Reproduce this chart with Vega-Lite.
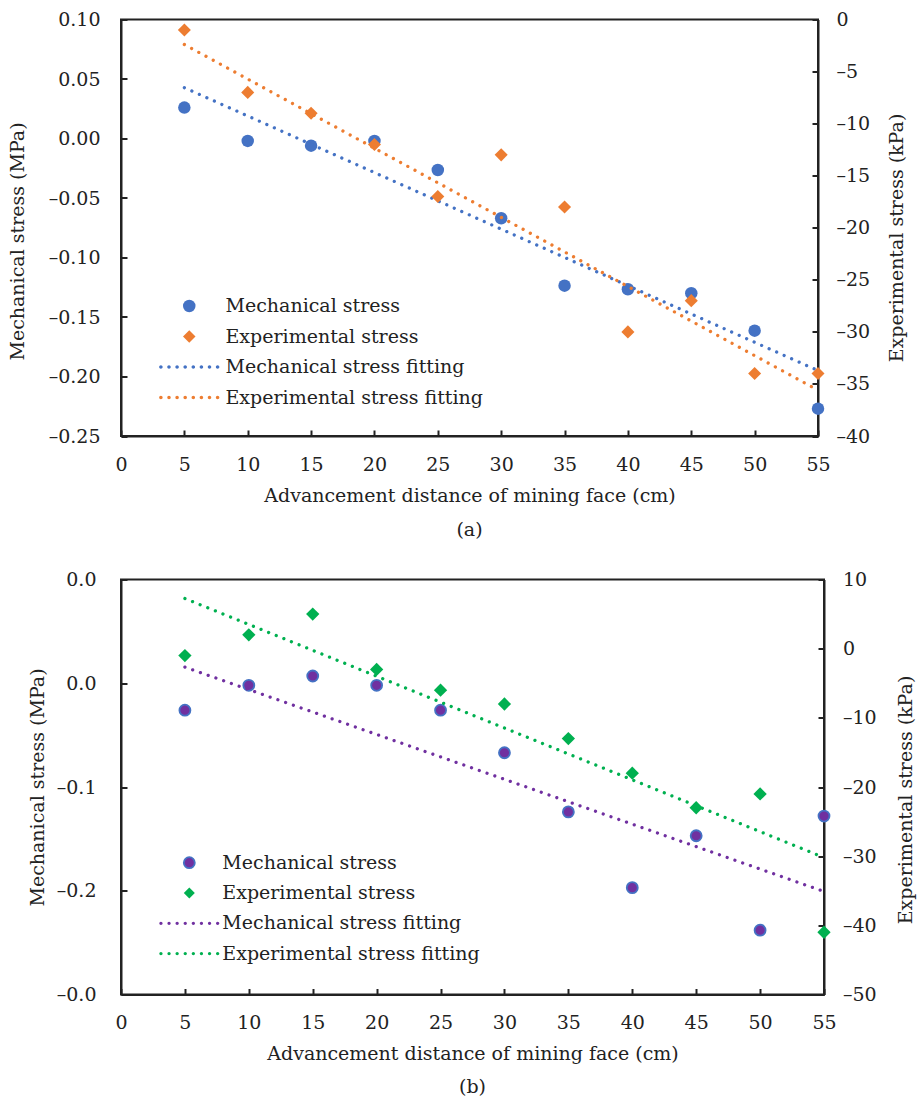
{
  "$schema": "https://vega.github.io/schema/vega-lite/v6.json",
  "background": "white",
  "padding": {"left": 7, "top": 9.5, "right": 5, "bottom": 5},
  "spacing": 28,
  "config": {
    "font": "DejaVu Serif",
    "view": {"stroke": "#222", "strokeWidth": 2},
    "axis": {
      "grid": false, "domainColor": "#222", "domainWidth": 2, "tickColor": "#222", "tickWidth": 2, "tickSize": -6,
      "labelFont": "DejaVu Serif", "labelFontSize": 19, "labelColor": "#222",
      "titleFont": "DejaVu Serif", "titleFontSize": 19, "titleFontWeight": "normal", "titleColor": "#222"
    },
    "legend": {"labelFont": "DejaVu Serif", "labelFontSize": 19, "labelColor": "#222", "labelLimit": 400},
    "title": {"font": "DejaVu Serif", "fontSize": 19, "fontWeight": "normal", "color": "#222"}
  },
  "datasets": {
    "a_mech": [
      {"x": 5, "y": 0.026, "series": "Mechanical stress"},
      {"x": 10, "y": -0.002, "series": "Mechanical stress"},
      {"x": 15, "y": -0.006, "series": "Mechanical stress"},
      {"x": 20, "y": -0.002, "series": "Mechanical stress"},
      {"x": 25, "y": -0.0265, "series": "Mechanical stress"},
      {"x": 30, "y": -0.067, "series": "Mechanical stress"},
      {"x": 35, "y": -0.1237, "series": "Mechanical stress"},
      {"x": 40, "y": -0.1267, "series": "Mechanical stress"},
      {"x": 45, "y": -0.13, "series": "Mechanical stress"},
      {"x": 50, "y": -0.1615, "series": "Mechanical stress"},
      {"x": 55, "y": -0.227, "series": "Mechanical stress"}
    ],
    "a_exp": [
      {"x": 5, "y": -1, "series": "Experimental stress"},
      {"x": 10, "y": -7, "series": "Experimental stress"},
      {"x": 15, "y": -9, "series": "Experimental stress"},
      {"x": 20, "y": -12, "series": "Experimental stress"},
      {"x": 25, "y": -17, "series": "Experimental stress"},
      {"x": 30, "y": -13, "series": "Experimental stress"},
      {"x": 35, "y": -18, "series": "Experimental stress"},
      {"x": 40, "y": -30, "series": "Experimental stress"},
      {"x": 45, "y": -27, "series": "Experimental stress"},
      {"x": 50, "y": -34, "series": "Experimental stress"},
      {"x": 55, "y": -34, "series": "Experimental stress"}
    ],
    "a_mech_fit": [{"x": 5, "y": 0.0427}, {"x": 55, "y": -0.195}],
    "a_exp_fit": [{"x": 5, "y": -2.4}, {"x": 55, "y": -35.6}],
    "b_mech": [
      {"x": 5, "y": -0.026, "series": "Mechanical stress"},
      {"x": 10, "y": -0.002, "series": "Mechanical stress"},
      {"x": 15, "y": 0.007, "series": "Mechanical stress"},
      {"x": 20, "y": -0.002, "series": "Mechanical stress"},
      {"x": 25, "y": -0.026, "series": "Mechanical stress"},
      {"x": 30, "y": -0.067, "series": "Mechanical stress"},
      {"x": 35, "y": -0.124, "series": "Mechanical stress"},
      {"x": 40, "y": -0.197, "series": "Mechanical stress"},
      {"x": 45, "y": -0.147, "series": "Mechanical stress"},
      {"x": 50, "y": -0.238, "series": "Mechanical stress"},
      {"x": 55, "y": -0.128, "series": "Mechanical stress"}
    ],
    "b_exp": [
      {"x": 5, "y": -1, "series": "Experimental stress"},
      {"x": 10, "y": 2, "series": "Experimental stress"},
      {"x": 15, "y": 5, "series": "Experimental stress"},
      {"x": 20, "y": -3, "series": "Experimental stress"},
      {"x": 25, "y": -6, "series": "Experimental stress"},
      {"x": 30, "y": -8, "series": "Experimental stress"},
      {"x": 35, "y": -13, "series": "Experimental stress"},
      {"x": 40, "y": -18, "series": "Experimental stress"},
      {"x": 45, "y": -23, "series": "Experimental stress"},
      {"x": 50, "y": -21, "series": "Experimental stress"},
      {"x": 55, "y": -41, "series": "Experimental stress"}
    ],
    "b_mech_fit": [{"x": 5, "y": 0.0155}, {"x": 55, "y": -0.2007}],
    "b_exp_fit": [{"x": 5, "y": 7.25}, {"x": 55, "y": -30.2}]
  },
  "resolve": {
    "scale": {"fill": "independent", "stroke": "independent", "shape": "independent"},
    "legend": {"fill": "independent", "stroke": "independent", "shape": "independent"}
  },
  "vconcat": [
    {
      "width": 697,
      "height": 416.5,
      "title": {"text": "(a)", "orient": "bottom", "anchor": "middle", "offset": 16},
      "resolve": {"scale": {"y": "independent"}, "axis": {"y": "independent"}},
      "layer": [
        {
          "layer": [
            {
              "data": {"name": "a_mech"},
              "mark": {"type": "point", "filled": true, "opacity": 1, "size": 156, "strokeWidth": 0},
              "encoding": {
                "x": {"field": "x", "type": "quantitative", "scale": {"domain": [0, 55], "nice": false, "zero": false},
                  "axis": {"orient": "bottom", "title": "Advancement distance of mining face (cm)", "values": [0, 5, 10, 15, 20, 25, 30, 35, 40, 45, 50, 55], "labelPadding": 25, "titlePadding": 12, "labelFlush": false}},
                "y": {"field": "y", "type": "quantitative", "scale": {"domain": [-0.25, 0.1], "nice": false, "zero": false},
                  "axis": {"orient": "left", "title": "Mechanical stress (MPa)", "titleY": 221.5, "values": [0.1, 0.05, 0, -0.05, -0.1, -0.15, -0.2, -0.25], "labelExpr": "(datum.value < -0.0001 ? '–' : '') + format(abs(datum.value), '.2f')", "labelPadding": 27, "titlePadding": 21}},
                "fill": {"field": "series", "type": "nominal",
                  "scale": {"domain": ["Mechanical stress", "Experimental stress", "Mechanical stress fitting", "Experimental stress fitting"], "range": ["#4472C4", "#ED7D31", "#4472C4", "#ED7D31"]},
                  "legend": {"title": null, "orient": "none", "legendX": 58.75, "legendY": 277, "symbolSize": 156, "labelOffset": 26.75, "rowPadding": 10.5, "symbolStrokeWidth": 0}},
                "shape": {"field": "series", "type": "nominal",
                  "scale": {"domain": ["Mechanical stress", "Experimental stress", "Mechanical stress fitting", "Experimental stress fitting"], "range": ["circle", "diamond", "M-4.82,0a0.28,0.28 0 1,0 0.56,0a0.28,0.28 0 1,0 -0.56,0ZM-3.523,0a0.28,0.28 0 1,0 0.56,0a0.28,0.28 0 1,0 -0.56,0ZM-2.226,0a0.28,0.28 0 1,0 0.56,0a0.28,0.28 0 1,0 -0.56,0ZM-0.929,0a0.28,0.28 0 1,0 0.56,0a0.28,0.28 0 1,0 -0.56,0ZM0.369,0a0.28,0.28 0 1,0 0.56,0a0.28,0.28 0 1,0 -0.56,0ZM1.666,0a0.28,0.28 0 1,0 0.56,0a0.28,0.28 0 1,0 -0.56,0ZM2.963,0a0.28,0.28 0 1,0 0.56,0a0.28,0.28 0 1,0 -0.56,0ZM4.26,0a0.28,0.28 0 1,0 0.56,0a0.28,0.28 0 1,0 -0.56,0Z", "M-4.82,0a0.28,0.28 0 1,0 0.56,0a0.28,0.28 0 1,0 -0.56,0ZM-3.523,0a0.28,0.28 0 1,0 0.56,0a0.28,0.28 0 1,0 -0.56,0ZM-2.226,0a0.28,0.28 0 1,0 0.56,0a0.28,0.28 0 1,0 -0.56,0ZM-0.929,0a0.28,0.28 0 1,0 0.56,0a0.28,0.28 0 1,0 -0.56,0ZM0.369,0a0.28,0.28 0 1,0 0.56,0a0.28,0.28 0 1,0 -0.56,0ZM1.666,0a0.28,0.28 0 1,0 0.56,0a0.28,0.28 0 1,0 -0.56,0ZM2.963,0a0.28,0.28 0 1,0 0.56,0a0.28,0.28 0 1,0 -0.56,0ZM4.26,0a0.28,0.28 0 1,0 0.56,0a0.28,0.28 0 1,0 -0.56,0Z"]},
                  "legend": {"title": null, "orient": "none", "legendX": 58.75, "legendY": 277, "symbolSize": 156, "labelOffset": 26.75, "rowPadding": 10.5, "symbolStrokeWidth": 0}}
              }
            },
            {
              "data": {"name": "a_mech_fit"},
              "mark": {"type": "line", "color": "#4472C4", "strokeWidth": 3.3, "strokeDash": [0.01, 8.2], "strokeCap": "round"},
              "encoding": {
                "x": {"field": "x", "type": "quantitative", "scale": {"domain": [0, 55], "nice": false, "zero": false}},
                "y": {"field": "y", "type": "quantitative", "scale": {"domain": [-0.25, 0.1], "nice": false, "zero": false}}
              }
            }
          ]
        },
        {
          "layer": [
            {
              "data": {"name": "a_exp"},
              "mark": {"type": "point", "filled": true, "opacity": 1, "size": 170, "strokeWidth": 0},
              "encoding": {
                "x": {"field": "x", "type": "quantitative", "scale": {"domain": [0, 55], "nice": false, "zero": false}},
                "y": {"field": "y", "type": "quantitative", "scale": {"domain": [-40, 0], "nice": false, "zero": false},
                  "axis": {"orient": "right", "title": "Experimental stress (kPa)", "titleAngle": 270, "titleBaseline": "top", "titleY": 218, "values": [0, -5, -10, -15, -20, -25, -30, -35, -40], "labelExpr": "(datum.value < 0 ? '–' : '') + abs(datum.value)", "labelPadding": 24, "titlePadding": 18}},
                "fill": {"field": "series", "type": "nominal",
                  "scale": {"domain": ["Mechanical stress", "Experimental stress", "Mechanical stress fitting", "Experimental stress fitting"], "range": ["#4472C4", "#ED7D31", "#4472C4", "#ED7D31"]},
                  "legend": {"title": null, "orient": "none", "legendX": 58.75, "legendY": 277, "symbolSize": 156, "labelOffset": 26.75, "rowPadding": 10.5, "symbolStrokeWidth": 0}},
                "shape": {"field": "series", "type": "nominal",
                  "scale": {"domain": ["Mechanical stress", "Experimental stress", "Mechanical stress fitting", "Experimental stress fitting"], "range": ["circle", "diamond", "M-4.82,0a0.28,0.28 0 1,0 0.56,0a0.28,0.28 0 1,0 -0.56,0ZM-3.523,0a0.28,0.28 0 1,0 0.56,0a0.28,0.28 0 1,0 -0.56,0ZM-2.226,0a0.28,0.28 0 1,0 0.56,0a0.28,0.28 0 1,0 -0.56,0ZM-0.929,0a0.28,0.28 0 1,0 0.56,0a0.28,0.28 0 1,0 -0.56,0ZM0.369,0a0.28,0.28 0 1,0 0.56,0a0.28,0.28 0 1,0 -0.56,0ZM1.666,0a0.28,0.28 0 1,0 0.56,0a0.28,0.28 0 1,0 -0.56,0ZM2.963,0a0.28,0.28 0 1,0 0.56,0a0.28,0.28 0 1,0 -0.56,0ZM4.26,0a0.28,0.28 0 1,0 0.56,0a0.28,0.28 0 1,0 -0.56,0Z", "M-4.82,0a0.28,0.28 0 1,0 0.56,0a0.28,0.28 0 1,0 -0.56,0ZM-3.523,0a0.28,0.28 0 1,0 0.56,0a0.28,0.28 0 1,0 -0.56,0ZM-2.226,0a0.28,0.28 0 1,0 0.56,0a0.28,0.28 0 1,0 -0.56,0ZM-0.929,0a0.28,0.28 0 1,0 0.56,0a0.28,0.28 0 1,0 -0.56,0ZM0.369,0a0.28,0.28 0 1,0 0.56,0a0.28,0.28 0 1,0 -0.56,0ZM1.666,0a0.28,0.28 0 1,0 0.56,0a0.28,0.28 0 1,0 -0.56,0ZM2.963,0a0.28,0.28 0 1,0 0.56,0a0.28,0.28 0 1,0 -0.56,0ZM4.26,0a0.28,0.28 0 1,0 0.56,0a0.28,0.28 0 1,0 -0.56,0Z"]},
                  "legend": {"title": null, "orient": "none", "legendX": 58.75, "legendY": 277, "symbolSize": 156, "labelOffset": 26.75, "rowPadding": 10.5, "symbolStrokeWidth": 0}}
              }
            },
            {
              "data": {"name": "a_exp_fit"},
              "mark": {"type": "line", "color": "#ED7D31", "strokeWidth": 3.3, "strokeDash": [0.01, 8.2], "strokeCap": "round"},
              "encoding": {
                "x": {"field": "x", "type": "quantitative", "scale": {"domain": [0, 55], "nice": false, "zero": false}},
                "y": {"field": "y", "type": "quantitative", "scale": {"domain": [-40, 0], "nice": false, "zero": false}}
              }
            }
          ]
        }
      ]
    },
    {
      "width": 703,
      "height": 415,
      "title": {"text": "(b)", "orient": "bottom", "anchor": "middle", "offset": 14},
      "resolve": {"scale": {"y": "independent"}, "axis": {"y": "independent"}},
      "layer": [
        {
          "layer": [
            {
              "data": {"name": "b_mech"},
              "mark": {"type": "point", "filled": true, "opacity": 1, "size": 121, "strokeWidth": 1.8},
              "encoding": {
                "x": {"field": "x", "type": "quantitative", "scale": {"domain": [0, 55], "nice": false, "zero": false},
                  "axis": {"orient": "bottom", "title": "Advancement distance of mining face (cm)", "values": [0, 5, 10, 15, 20, 25, 30, 35, 40, 45, 50, 55], "labelPadding": 25, "titlePadding": 12, "labelFlush": false}},
                "y": {"field": "y", "type": "quantitative", "scale": {"domain": [-0.3, 0.1], "nice": false, "zero": false},
                  "axis": {"orient": "left", "title": "Mechanical stress (MPa)", "values": [0.1, 0, -0.1, -0.2, -0.3], "labelExpr": "datum.value > -0.05 ? '0.0' : datum.value > -0.15 ? '–0.1' : datum.value > -0.25 ? '–0.2' : '–0.0'", "labelPadding": 31, "titlePadding": 8.5}},
                "fill": {"field": "series", "type": "nominal",
                  "scale": {"domain": ["Mechanical stress", "Experimental stress", "Mechanical stress fitting", "Experimental stress fitting"], "range": ["#7030A0", "#00B050", "#7030A0", "#00B050"]},
                  "legend": {"title": null, "orient": "none", "legendX": 58.8, "legendY": 273.7, "symbolSize": 121, "labelOffset": 23.5, "rowPadding": 10.3, "symbolStrokeWidth": 1.8}},
                "stroke": {"field": "series", "type": "nominal",
                  "scale": {"domain": ["Mechanical stress", "Experimental stress", "Mechanical stress fitting", "Experimental stress fitting"], "range": ["#4472C4", "transparent", "transparent", "transparent"]},
                  "legend": {"title": null, "orient": "none", "legendX": 58.8, "legendY": 273.7, "symbolSize": 121, "labelOffset": 23.5, "rowPadding": 10.3, "symbolStrokeWidth": 1.8}},
                "shape": {"field": "series", "type": "nominal",
                  "scale": {"domain": ["Mechanical stress", "Experimental stress", "Mechanical stress fitting", "Experimental stress fitting"], "range": ["circle", "diamond", "M-5.455,0a0.3,0.3 0 1,0 0.6,0a0.3,0.3 0 1,0 -0.6,0ZM-3.982,0a0.3,0.3 0 1,0 0.6,0a0.3,0.3 0 1,0 -0.6,0ZM-2.509,0a0.3,0.3 0 1,0 0.6,0a0.3,0.3 0 1,0 -0.6,0ZM-1.036,0a0.3,0.3 0 1,0 0.6,0a0.3,0.3 0 1,0 -0.6,0ZM0.436,0a0.3,0.3 0 1,0 0.6,0a0.3,0.3 0 1,0 -0.6,0ZM1.909,0a0.3,0.3 0 1,0 0.6,0a0.3,0.3 0 1,0 -0.6,0ZM3.382,0a0.3,0.3 0 1,0 0.6,0a0.3,0.3 0 1,0 -0.6,0ZM4.855,0a0.3,0.3 0 1,0 0.6,0a0.3,0.3 0 1,0 -0.6,0Z", "M-5.455,0a0.3,0.3 0 1,0 0.6,0a0.3,0.3 0 1,0 -0.6,0ZM-3.982,0a0.3,0.3 0 1,0 0.6,0a0.3,0.3 0 1,0 -0.6,0ZM-2.509,0a0.3,0.3 0 1,0 0.6,0a0.3,0.3 0 1,0 -0.6,0ZM-1.036,0a0.3,0.3 0 1,0 0.6,0a0.3,0.3 0 1,0 -0.6,0ZM0.436,0a0.3,0.3 0 1,0 0.6,0a0.3,0.3 0 1,0 -0.6,0ZM1.909,0a0.3,0.3 0 1,0 0.6,0a0.3,0.3 0 1,0 -0.6,0ZM3.382,0a0.3,0.3 0 1,0 0.6,0a0.3,0.3 0 1,0 -0.6,0ZM4.855,0a0.3,0.3 0 1,0 0.6,0a0.3,0.3 0 1,0 -0.6,0Z"]},
                  "legend": {"title": null, "orient": "none", "legendX": 58.8, "legendY": 273.7, "symbolSize": 121, "labelOffset": 23.5, "rowPadding": 10.3, "symbolStrokeWidth": 1.8}}
              }
            },
            {
              "data": {"name": "b_mech_fit"},
              "mark": {"type": "line", "color": "#7030A0", "strokeWidth": 3.3, "strokeDash": [0.01, 8.2], "strokeCap": "round"},
              "encoding": {
                "x": {"field": "x", "type": "quantitative", "scale": {"domain": [0, 55], "nice": false, "zero": false}},
                "y": {"field": "y", "type": "quantitative", "scale": {"domain": [-0.3, 0.1], "nice": false, "zero": false}}
              }
            }
          ]
        },
        {
          "layer": [
            {
              "data": {"name": "b_exp"},
              "mark": {"type": "point", "filled": true, "opacity": 1, "size": 177, "strokeWidth": 1.8},
              "encoding": {
                "x": {"field": "x", "type": "quantitative", "scale": {"domain": [0, 55], "nice": false, "zero": false}},
                "y": {"field": "y", "type": "quantitative", "scale": {"domain": [-50, 10], "nice": false, "zero": false},
                  "axis": {"orient": "right", "title": "Experimental stress (kPa)", "titleAngle": 270, "titleBaseline": "top", "titleY": 220, "values": [10, 0, -10, -20, -30, -40, -50], "labelExpr": "(datum.value < 0 ? '–' : '') + abs(datum.value)", "labelPadding": 24.5, "titlePadding": 20.5}},
                "fill": {"field": "series", "type": "nominal",
                  "scale": {"domain": ["Mechanical stress", "Experimental stress", "Mechanical stress fitting", "Experimental stress fitting"], "range": ["#7030A0", "#00B050", "#7030A0", "#00B050"]},
                  "legend": {"title": null, "orient": "none", "legendX": 58.8, "legendY": 273.7, "symbolSize": 121, "labelOffset": 23.5, "rowPadding": 10.3, "symbolStrokeWidth": 1.8}},
                "stroke": {"field": "series", "type": "nominal",
                  "scale": {"domain": ["Mechanical stress", "Experimental stress", "Mechanical stress fitting", "Experimental stress fitting"], "range": ["#4472C4", "transparent", "transparent", "transparent"]},
                  "legend": {"title": null, "orient": "none", "legendX": 58.8, "legendY": 273.7, "symbolSize": 121, "labelOffset": 23.5, "rowPadding": 10.3, "symbolStrokeWidth": 1.8}},
                "shape": {"field": "series", "type": "nominal",
                  "scale": {"domain": ["Mechanical stress", "Experimental stress", "Mechanical stress fitting", "Experimental stress fitting"], "range": ["circle", "diamond", "M-5.455,0a0.3,0.3 0 1,0 0.6,0a0.3,0.3 0 1,0 -0.6,0ZM-3.982,0a0.3,0.3 0 1,0 0.6,0a0.3,0.3 0 1,0 -0.6,0ZM-2.509,0a0.3,0.3 0 1,0 0.6,0a0.3,0.3 0 1,0 -0.6,0ZM-1.036,0a0.3,0.3 0 1,0 0.6,0a0.3,0.3 0 1,0 -0.6,0ZM0.436,0a0.3,0.3 0 1,0 0.6,0a0.3,0.3 0 1,0 -0.6,0ZM1.909,0a0.3,0.3 0 1,0 0.6,0a0.3,0.3 0 1,0 -0.6,0ZM3.382,0a0.3,0.3 0 1,0 0.6,0a0.3,0.3 0 1,0 -0.6,0ZM4.855,0a0.3,0.3 0 1,0 0.6,0a0.3,0.3 0 1,0 -0.6,0Z", "M-5.455,0a0.3,0.3 0 1,0 0.6,0a0.3,0.3 0 1,0 -0.6,0ZM-3.982,0a0.3,0.3 0 1,0 0.6,0a0.3,0.3 0 1,0 -0.6,0ZM-2.509,0a0.3,0.3 0 1,0 0.6,0a0.3,0.3 0 1,0 -0.6,0ZM-1.036,0a0.3,0.3 0 1,0 0.6,0a0.3,0.3 0 1,0 -0.6,0ZM0.436,0a0.3,0.3 0 1,0 0.6,0a0.3,0.3 0 1,0 -0.6,0ZM1.909,0a0.3,0.3 0 1,0 0.6,0a0.3,0.3 0 1,0 -0.6,0ZM3.382,0a0.3,0.3 0 1,0 0.6,0a0.3,0.3 0 1,0 -0.6,0ZM4.855,0a0.3,0.3 0 1,0 0.6,0a0.3,0.3 0 1,0 -0.6,0Z"]},
                  "legend": {"title": null, "orient": "none", "legendX": 58.8, "legendY": 273.7, "symbolSize": 121, "labelOffset": 23.5, "rowPadding": 10.3, "symbolStrokeWidth": 1.8}}
              }
            },
            {
              "data": {"name": "b_exp_fit"},
              "mark": {"type": "line", "color": "#00B050", "strokeWidth": 3.3, "strokeDash": [0.01, 8.2], "strokeCap": "round"},
              "encoding": {
                "x": {"field": "x", "type": "quantitative", "scale": {"domain": [0, 55], "nice": false, "zero": false}},
                "y": {"field": "y", "type": "quantitative", "scale": {"domain": [-50, 10], "nice": false, "zero": false}}
              }
            }
          ]
        }
      ]
    }
  ]
}
